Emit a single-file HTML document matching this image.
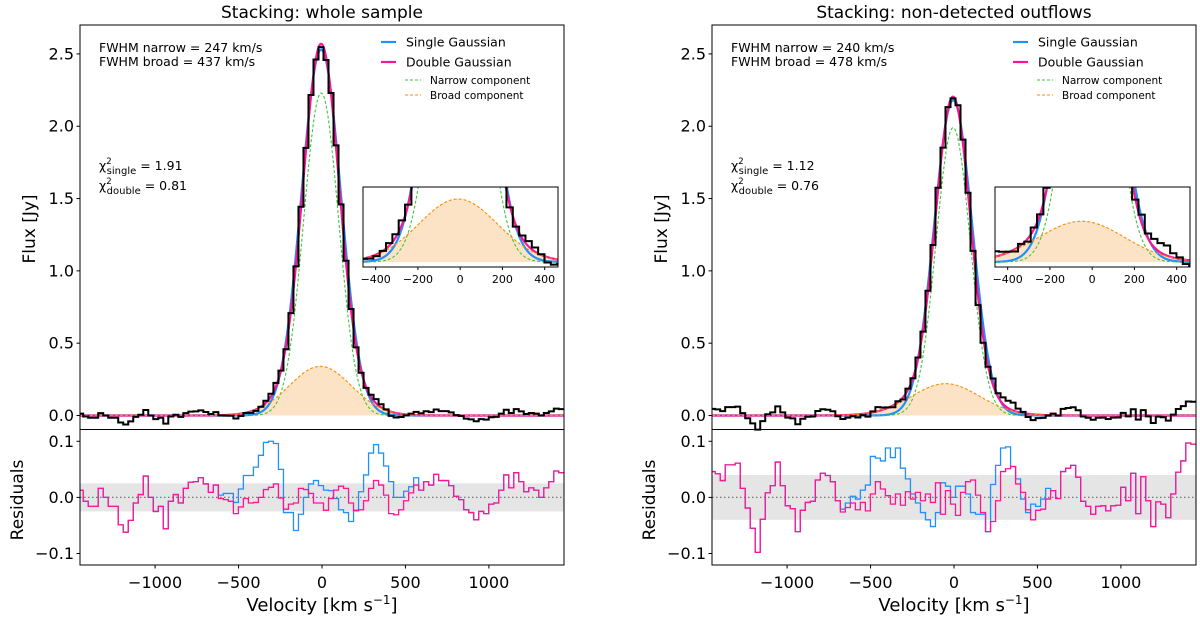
<!DOCTYPE html>
<html><head><meta charset="utf-8"><style>
html,body{margin:0;padding:0;background:#fff;}
svg{display:block;font-family:"DejaVu Sans","Liberation Sans",sans-serif;}
</style></head><body>
<svg id="chart" width="1200" height="622" viewBox="0 0 1200 622" xmlns="http://www.w3.org/2000/svg"></svg>
<script>
// ---- data (bins: centre = binStart + i*binWidth, km/s) ----
const binStart = -1446;
const binWidth = 30;
const fluxL = [0.013,-0.007,-0.016,-0.016,0.016,0,-0.016,-0.016,-0.049,-0.062,
-0.041,-0.01,0.005,0.038,0,-0.025,-0.016,-0.056,-0.007,0.005,
-0.01,0.016,0.027,0.028,0.035,0.024,0.01,0.023,0,-0.001,
-0.002,-0.021,-0.004,0.017,0.018,0.032,0.06,0.102,0.15,0.225,
0.31,0.458,0.708,1.031,1.443,1.85,2.216,2.461,2.547,2.458,
2.23,1.868,1.46,1.07,0.736,0.471,0.295,0.191,0.143,0.113,
0.078,0.042,-0.003,-0.014,-0.011,0.001,0.013,0.025,0.015,0.029,
0.023,0.041,0.03,0.03,0.021,0.002,-0.004,-0.022,-0.027,-0.04,
-0.025,-0.029,-0.012,-0.01,0.013,0.04,0.017,0.044,0.028,0.01,
0.017,0.013,0,0.017,0.028,0.047,0.044];
const residDoubleL = [0.013,-0.007,-0.016,-0.016,0.016,0,-0.016,-0.016,-0.049,-0.062,
-0.041,-0.01,0.005,0.038,0,-0.025,-0.016,-0.056,-0.007,0.005,
-0.01,0.016,0.027,0.028,0.035,0.024,0.009,0.022,-0.002,-0.004,
-0.007,-0.029,-0.017,-0.002,-0.01,-0.009,0,0.014,0.018,0.024,
-0.001,-0.021,-0.012,-0.01,0.016,0.014,0.007,-0.01,-0.01,-0.023,
-0.002,0.013,0.02,0.016,-0.01,-0.023,-0.022,-0.006,0.016,0.03,
0.022,0.004,-0.029,-0.031,-0.022,-0.006,0.008,0.022,0.013,0.028,
0.022,0.041,0.03,0.03,0.021,0.002,-0.004,-0.022,-0.027,-0.04,
-0.025,-0.029,-0.012,-0.01,0.013,0.04,0.017,0.044,0.028,0.01,
0.017,0.013,0,0.017,0.028,0.047,0.044];
const residSingleL = [0.013,-0.007,-0.016,-0.016,0.016,0,-0.016,-0.016,-0.049,-0.062,
-0.041,-0.01,0.005,0.038,0,-0.025,-0.016,-0.056,-0.007,0.005,
-0.01,0.016,0.027,0.028,0.035,0.024,0.009,0.022,0.004,0.007,
0.007,-0.009,0.015,0.039,0.039,0.054,0.075,0.098,0.1,0.096,
0.05,-0.027,-0.027,-0.059,-0.03,0,0.024,0.03,0.021,0.013,
0.012,-0.002,-0.022,-0.027,-0.043,-0.024,0.01,0.04,0.079,0.094,
0.079,0.056,0.028,0,0,0.011,0.019,0.035,0.013,0.028,
0.022,0.041,0.03,0.03,0.021,0.002,-0.004,-0.022,-0.027,-0.04,
-0.025,-0.029,-0.012,-0.01,0.013,0.04,0.017,0.044,0.028,0.01,
0.017,0.013,0,0.017,0.028,0.047,0.044];
const fluxR = [0.046,0.042,0.03,0.058,0.058,0.061,0.016,-0.019,-0.055,-0.098,
-0.039,0.008,0.021,0.063,0.021,-0.015,-0.02,-0.061,-0.023,-0.009,
-0.007,0.031,0.043,0.04,0.029,-0.005,-0.024,-0.015,-0.005,-0.014,
0.002,-0.008,0.028,0.058,0.055,0.056,0.057,0.098,0.11,0.186,
0.257,0.401,0.58,0.862,1.179,1.575,1.852,2.132,2.193,2.145,
1.907,1.54,1.138,0.763,0.503,0.337,0.256,0.154,0.125,0.102,
0.089,0.047,0.025,-0.011,-0.032,-0.018,-0.017,-0.001,0.013,-0.001,
0.046,0.052,0.057,0.036,-0.007,-0.016,-0.03,-0.016,-0.015,-0.024,
-0.015,-0.014,0.018,-0.006,0.043,-0.029,0.037,-0.006,-0.052,-0.008,
-0.012,-0.036,0.006,0.045,0.065,0.097,0.095];
const residDoubleR = [0.046,0.042,0.03,0.058,0.058,0.061,0.016,-0.019,-0.055,-0.098,
-0.039,0.008,0.021,0.063,0.021,-0.015,-0.02,-0.061,-0.023,-0.009,
-0.007,0.031,0.043,0.039,0.028,-0.006,-0.026,-0.018,-0.01,-0.022,
-0.009,-0.024,0.006,0.028,0.015,0.003,-0.012,0.006,-0.014,0.01,
-0.003,0.009,-0.006,0.006,-0.009,0.026,-0.03,0.012,-0.012,-0.032,
0.009,0.028,0.031,0.004,-0.027,-0.061,-0.043,-0.006,0.046,0.051,
0.055,0.024,0.009,-0.022,-0.04,-0.023,-0.021,-0.003,0.012,-0.002,
0.046,0.052,0.057,0.036,-0.007,-0.016,-0.03,-0.016,-0.015,-0.024,
-0.015,-0.014,0.018,-0.006,0.043,-0.029,0.037,-0.006,-0.052,-0.008,
-0.012,-0.036,0.006,0.045,0.065,0.097,0.095];
const residSingleR = [0.046,0.042,0.03,0.058,0.058,0.061,0.016,-0.019,-0.055,-0.098,
-0.039,0.008,0.021,0.063,0.021,-0.015,-0.02,-0.061,-0.023,-0.009,
-0.007,0.031,0.043,0.039,0.028,-0.006,-0.021,-0.01,0.002,-0.003,
0.013,0.022,0.073,0.07,0.065,0.088,0.071,0.088,0.052,0.033,
0.006,-0.01,-0.027,-0.04,-0.052,-0.027,0.026,0.02,0,0.02,
0.02,0.006,-0.027,-0.03,-0.03,-0.061,0.023,0.057,0.088,0.09,
0.055,0.033,-0.003,-0.027,-0.012,-0.016,-0.003,0.016,0.012,-0.002,
0.046,0.052,0.057,0.036,-0.007,-0.016,-0.03,-0.016,-0.015,-0.024,
-0.015,-0.014,0.018,-0.006,0.043,-0.029,0.037,-0.006,-0.052,-0.008,
-0.012,-0.036,0.006,0.045,0.065,0.097,0.095];
// fit parameters: [amplitude Jy, centre km/s, FWHM km/s]
const narrowL = [2.23, -5, 247];
const broadL = [0.34, -10, 437];
const singleL = [2.53, -5, 278];
const narrowR = [1.99, -5, 240];
const broadR = [0.22, -50, 478];
const singleR = [2.18, -5, 268];
const bandL = 0.025;
const bandR = 0.04;
const xTicks = [-1000, -500, 0, 500, 1000];
const xTickLabels = ["\u22121000", "\u2212500", "0", "500", "1000"];
const yTicksMain = [0, 0.5, 1.0, 1.5, 2.0, 2.5];
const yTickLabelsMain = ["0.0", "0.5", "1.0", "1.5", "2.0", "2.5"];
const yTicksRes = [-0.1, 0, 0.1];
const yTickLabelsRes = ["\u22120.1", "0.0", "0.1"];
const insetTicks = [-400, -200, 0, 200, 400];
const insetTickLabels = ["\u2212400", "\u2212200", "0", "200", "400"];

const NS = "http://www.w3.org/2000/svg";
const svg = document.getElementById("chart");
function mk(tag, attrs, parent) {
  const e = document.createElementNS(NS, tag);
  for (const k in attrs) e.setAttribute(k, attrs[k]);
  (parent || svg).appendChild(e);
  return e;
}
function gauss(p, v) { const s = p[2] / 2.3548; return p[0] * Math.exp(-((v - p[1]) ** 2) / (2 * s * s)); }

function drawPanel(off, title, flux, rD, rS, nar, brd, sgl, band, fwhmTxt, chiTxt, clipId) {
  const L = 80 + off, R = 564 + off;
  const xmin = -1450, xmax = 1450;
  const X = v => L + (v - xmin) / (xmax - xmin) * (R - L);
  const mT = 25, mB = 429.5, ymin = -0.097, ymax = 2.70;
  const Y = f => mB - (f - ymin) / (ymax - ymin) * (mB - mT);
  const rT = 429.5, rB = 565, rmin = -0.1205, rmax = 0.121;
  const RY = f => rB - (f - rmin) / (rmax - rmin) * (rB - rT);
  const g = mk("g", {});
  
  

  const cp = mk("clipPath", { id: clipId }, g);
  mk("rect", { x: L, y: mT, width: R - L, height: rB - mT }, cp);

  // title
  const t = mk("text", { x: (L + R) / 2, y: 18, "text-anchor": "middle", "font-size": 17 }, g);
  t.textContent = title;
  
  

  const plot = mk("g", { "clip-path": "url(#" + clipId + ")" }, g);
  // broad fill
  let fd = "M" + X(xmin) + "," + Y(0);
  for (let v = xmin; v <= xmax; v += 5) fd += "L" + X(v).toFixed(2) + "," + Y(gauss(brd, v)).toFixed(2);
  fd += "L" + X(xmax) + "," + Y(0) + "Z";
  const fill = mk("path", { d: fd, fill: "#fde3c6", stroke: "none" }, plot);
  
  

  function curve(fn, attrs, name, Yf, par) {
    let d = "";
    for (let v = xmin; v <= xmax; v += 5) d += (d ? "L" : "M") + X(v).toFixed(2) + "," + Yf(fn(v)).toFixed(2);
    const p = mk("path", Object.assign({ d: d, fill: "none" }, attrs), par || plot);
    
    
    return p;
  }
  function stepPath(arr, Yf, Xf) {
    let d = "";
    arr.forEach((val, i) => {
      const c = binStart + i * binWidth;
      const x0 = Xf(c - binWidth / 2), x1 = Xf(c + binWidth / 2), y = Yf(val).toFixed(2);
      d += (i === 0 ? "M" + x0.toFixed(2) + "," + y : "L" + x0.toFixed(2) + "," + y) + "L" + x1.toFixed(2) + "," + y;
    });
    return d;
  }
  const dbl = v => gauss(nar, v) + gauss(brd, v);
  curve(v => gauss(sgl, v), { stroke: "#1e90ff", "stroke-width": 2.2 }, "single-gaussian-curve", Y);
  curve(dbl, { stroke: "#ff1493", "stroke-width": 2.2 }, "double-gaussian-curve", Y);
  curve(v => gauss(nar, v), { stroke: "#3cc83c", "stroke-width": 1.1, "stroke-dasharray": "3,2" }, "narrow-component-curve", Y);
  curve(v => gauss(brd, v), { stroke: "#ff8c00", "stroke-width": 1.1, "stroke-dasharray": "3,2" }, "broad-component-curve", Y);
  const sp = mk("path", { d: stepPath(flux, Y, X), fill: "none", stroke: "#000", "stroke-width": 2 }, plot);
  
  

  // residual panel
  const bandR = mk("rect", { x: L, y: RY(band), width: R - L, height: RY(-band) - RY(band), fill: "#e5e5e5" }, plot);
  
  
  const zl = mk("line", { x1: L, x2: R, y1: RY(0), y2: RY(0), stroke: "#777", "stroke-width": 1.2, "stroke-dasharray": "1.5,2.5" }, plot);
  
  
  const rs = mk("path", { d: stepPath(rS, RY, X), fill: "none", stroke: "#1e90ff", "stroke-width": 1.3 }, plot);
  
  
  const rd = mk("path", { d: stepPath(rD, RY, X), fill: "none", stroke: "#ff1493", "stroke-width": 1.3 }, plot);
  
  

  // frames
  const f1 = mk("rect", { x: L, y: mT, width: R - L, height: mB - mT, fill: "none", stroke: "#000", "stroke-width": 1 }, g);
  
  
  const f2 = mk("rect", { x: L, y: rT, width: R - L, height: rB - rT, fill: "none", stroke: "#000", "stroke-width": 1 }, g);
  
  

  // ticks
  yTicksMain.forEach((v, i) => {
    mk("line", { x1: L - 3.5, x2: L, y1: Y(v), y2: Y(v), stroke: "#000" }, g);
    const tt = mk("text", { x: L - 6, y: Y(v) + 5.5, "text-anchor": "end", "font-size": 16 }, g);
    tt.textContent = yTickLabelsMain[i];
    
    
  });
  yTicksRes.forEach((v, i) => {
    mk("line", { x1: L - 3.5, x2: L, y1: RY(v), y2: RY(v), stroke: "#000" }, g);
    const tt = mk("text", { x: L - 6, y: RY(v) + 5.5, "text-anchor": "end", "font-size": 16 }, g);
    tt.textContent = yTickLabelsRes[i];
    
    
  });
  xTicks.forEach((v, i) => {
    mk("line", { x1: X(v), x2: X(v), y1: rB, y2: rB + 3.5, stroke: "#000" }, g);
    const tt = mk("text", { x: X(v), y: rB + 23, "text-anchor": "middle", "font-size": 16 }, g);
    tt.textContent = xTickLabels[i];
    
    
  });

  // axis labels
  const yl = mk("text", { x: 0, y: 0, transform: "translate(" + (35 + off) + ",229) rotate(-90)", "text-anchor": "middle", "font-size": 17 }, g);
  yl.textContent = "Flux [Jy]";
  
  
  const rl = mk("text", { x: 0, y: 0, transform: "translate(" + (23 + off) + ",500) rotate(-90)", "text-anchor": "middle", "font-size": 17 }, g);
  rl.textContent = "Residuals";
  
  
  const xl = mk("text", { x: (L + R) / 2, y: 611, "text-anchor": "middle", "font-size": 18 }, g);
  xl.innerHTML = 'Velocity [km s<tspan dy="-7" font-size="12">\u22121</tspan><tspan dy="7">]</tspan>';
  
  

  // annotations
  const a1 = mk("text", { x: 99 + off, y: 52, "font-size": 12.5 }, g);
  a1.textContent = fwhmTxt[0];
  
  
  const a2 = mk("text", { x: 99 + off, y: 66, "font-size": 12.5 }, g);
  a2.textContent = fwhmTxt[1];
  
  
  const c1 = mk("text", { x: 99 + off, y: 170, "font-size": 12.5 }, g);
  c1.innerHTML = '\u03c7<tspan dy="-6" font-size="8.5">2</tspan><tspan dx="-5" dy="10" font-size="10">single</tspan><tspan dy="-4"> = ' + chiTxt[0] + '</tspan>';
  
  
  const c2 = mk("text", { x: 99 + off, y: 190, "font-size": 12.5 }, g);
  c2.innerHTML = '\u03c7<tspan dy="-6" font-size="8.5">2</tspan><tspan dx="-5" dy="10" font-size="10">double</tspan><tspan dy="-4"> = ' + chiTxt[1] + '</tspan>';
  
  

  // legend
  const lg = mk("g", {}, g);
  
  
  const ent = [
    ["Single Gaussian", "#1e90ff", 2.2, null, 42, 12.5, 381, 396, 406, "legend-single-gaussian"],
    ["Double Gaussian", "#ff1493", 2.2, null, 62, 12.5, 381, 396, 406, "legend-double-gaussian"],
    ["Narrow component", "#3cc83c", 1.1, "3,2", 80, 10.5, 405, 421, 430, "legend-narrow-component"],
    ["Broad component", "#ff8c00", 1.1, "3,2", 95, 10.5, 405, 421, 430, "legend-broad-component"]];
  ent.forEach(e => {
    const eg = mk("g", {}, lg);
    
    
    const la = { x1: e[6] + off, x2: e[7] + off, y1: e[4], y2: e[4], stroke: e[1], "stroke-width": e[2] };
    if (e[3]) la["stroke-dasharray"] = e[3];
    mk("line", la, eg);
    const tx = mk("text", { x: e[8] + off, y: e[4] + e[5] * 0.36, "font-size": e[5] }, eg);
    tx.textContent = e[0];
  });

  // inset
  const iL = 363 + off, iR = 558 + off, iT = 187, iB = 267, ixmin = -460, ixmax = 463, iymin = -0.027, iymax = 0.405;
  const IX = v => iL + (v - ixmin) / (ixmax - ixmin) * (iR - iL);
  const IY = f => iB - (f - iymin) / (iymax - iymin) * (iB - iT);
  const ig = mk("g", {}, g);
  
  
  mk("rect", { x: iL, y: iT, width: iR - iL, height: iB - iT, fill: "#fff" }, ig);
  const icp = mk("clipPath", { id: clipId + "i" }, ig);
  mk("rect", { x: iL, y: iT, width: iR - iL, height: iB - iT }, icp);
  const ip = mk("g", { "clip-path": "url(#" + clipId + "i)" }, ig);
  let ifd = "M" + IX(ixmin) + "," + IY(0);
  for (let v = ixmin; v <= ixmax; v += 4) ifd += "L" + IX(v).toFixed(2) + "," + IY(gauss(brd, v)).toFixed(2);
  ifd += "L" + IX(ixmax) + "," + IY(0) + "Z";
  mk("path", { d: ifd, fill: "#fde3c6" }, ip);
  function icurve(fn, attrs, name) {
    let d = "";
    for (let v = ixmin; v <= ixmax; v += 2) d += (d ? "L" : "M") + IX(v).toFixed(2) + "," + Math.max(-50, IY(fn(v))).toFixed(2);
    const p = mk("path", Object.assign({ d: d, fill: "none" }, attrs), ip);
    
    
  }
  icurve(v => gauss(sgl, v), { stroke: "#1e90ff", "stroke-width": 2.2 }, "inset-single-gaussian");
  icurve(dbl, { stroke: "#ff1493", "stroke-width": 2.2 }, "inset-double-gaussian");
  icurve(v => gauss(nar, v), { stroke: "#3cc83c", "stroke-width": 1.1, "stroke-dasharray": "3,2" }, "inset-narrow-component");
  icurve(v => gauss(brd, v), { stroke: "#ff8c00", "stroke-width": 1.1, "stroke-dasharray": "3,2" }, "inset-broad-component");
  const isp = mk("path", { d: stepPath(flux, f => Math.max(-50, IY(f)), IX), fill: "none", stroke: "#000", "stroke-width": 2 }, ip);
  
  
  mk("rect", { x: iL, y: iT, width: iR - iL, height: iB - iT, fill: "none", stroke: "#000", "stroke-width": 1 }, ig);
  insetTicks.forEach((v, i) => {
    mk("line", { x1: IX(v), x2: IX(v), y1: iB, y2: iB + 3, stroke: "#000" }, ig);
    const tt = mk("text", { x: IX(v), y: iB + 16, "text-anchor": "middle", "font-size": 11 }, ig);
    tt.textContent = insetTickLabels[i];
    
    
  });
}
drawPanel(0, "Stacking: whole sample", fluxL, residDoubleL, residSingleL, narrowL, broadL, singleL, bandL,
  ["FWHM narrow = 247 km/s", "FWHM broad = 437 km/s"], ["1.91", "0.81"], "cpL");
drawPanel(632, "Stacking: non-detected outflows", fluxR, residDoubleR, residSingleR, narrowR, broadR, singleR, bandR,
  ["FWHM narrow = 240 km/s", "FWHM broad = 478 km/s"], ["1.12", "0.76"], "cpR");
</script>
</body></html>
